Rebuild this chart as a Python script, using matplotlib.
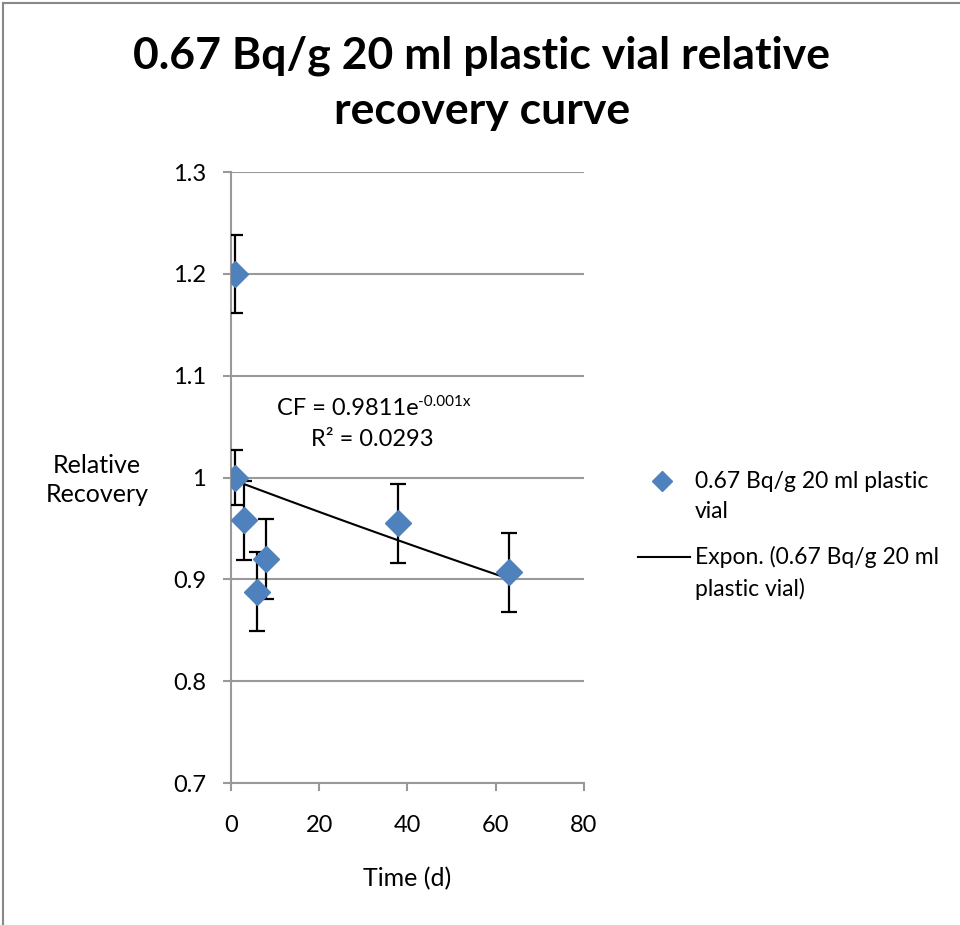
import matplotlib.pyplot as plt
import numpy as np
from matplotlib.lines import Line2D

plt.rcParams['font.family'] = ['Lato', 'DejaVu Sans']

time_d = [0.9, 1.0, 2.9, 5.8, 7.9, 37.9, 62.9]
recovery = [1.2, 1.0, 0.958, 0.888, 0.920, 0.955, 0.907]
recovery_err = [0.038, 0.027, 0.039, 0.039, 0.039, 0.039, 0.039]
legend_labels = ['0.67 Bq/g 20 ml plastic\nvial', 'Expon. (0.67 Bq/g 20 ml\nplastic vial)']

# exponential trend line fitted to the points
b, ln_a = np.polyfit(time_d, np.log(recovery), 1)
x_fit = np.linspace(min(time_d), max(time_d), 100)
y_fit = np.exp(ln_a) * np.exp(b * x_fit)

fig = plt.figure(figsize=(9.6, 9.25), dpi=100)
ax = fig.add_axes([0.2406, 0.1535, 0.3677, 0.6605])

ax.plot(x_fit, y_fit, color='black', lw=1.5, zorder=2)
ax.errorbar(time_d, recovery, yerr=recovery_err, fmt='none', ecolor='black',
            elinewidth=1.6, capsize=6, capthick=1.6, zorder=3)
ax.plot(time_d, recovery, 'D', color='#4F81BD', ms=13, mec='#4F81BD', zorder=4)

ax.set_xlim(0, 80)
ax.set_ylim(0.7, 1.3)
ax.set_xticks([0, 20, 40, 60, 80])
ax.set_yticks([0.7, 0.8, 0.9, 1.0, 1.1, 1.2, 1.3])
ax.set_yticklabels(['0.7', '0.8', '0.9', '1', '1.1', '1.2', '1.3'])
ax.yaxis.grid(True, color='#999999', lw=1.5)
ax.set_axisbelow(True)
for s in ['top', 'right']:
    ax.spines[s].set_visible(False)
for s in ['left', 'bottom']:
    ax.spines[s].set_color('#999999')
    ax.spines[s].set_linewidth(1.5)
ax.tick_params(colors='#999999', labelcolor='black', labelsize=17, length=6, width=1.5)
ax.tick_params(axis='x', pad=17)
ax.tick_params(axis='y', pad=12)

ax.set_xlabel('Time (d)', fontsize=18, labelpad=22)
fig.text(0.101, 0.481, 'Relative\nRecovery', fontsize=18, ha='center', va='center',
         linespacing=1.3)

fig.text(0.502, 0.9097, '0.67 Bq/g 20 ml plastic vial relative\nrecovery curve',
         fontsize=32, fontweight='bold', ha='center', va='center', linespacing=1.45)

# trend line equation, superscript as its own smaller text
cf_text = ax.text(10.4, 1.068, 'CF = 0.9811e', fontsize=17, ha='left', va='center', zorder=5)
ax.annotate('-0.001x', xy=(1.0, 0.82), xycoords=cf_text, fontsize=11,
            ha='left', va='center', zorder=5)
ax.text(32, 1.037, 'R² = 0.0293', fontsize=17, ha='center', va='center', zorder=5)

# legend, Excel style: key lined up with the first line of each label
fig.add_artist(Line2D([0.6896], [1 - 481 / 925], marker='D', color='#4F81BD',
                      ls='none', ms=10))
fig.add_artist(Line2D([0.665, 0.719], [1 - 557 / 925] * 2, color='black', lw=1.5))
fig.text(0.724, 1 - 496.5 / 925, legend_labels[0], fontsize=16.5, ha='left',
         va='center', linespacing=1.55)
fig.text(0.724, 1 - 573 / 925, legend_labels[1], fontsize=16.5, ha='left',
         va='center', linespacing=1.55)

fig.add_artist(Line2D([0.003, 1.0], [0.997, 0.997], color='#888888', lw=1.5))
fig.add_artist(Line2D([0.003, 0.003], [0.0, 0.997], color='#888888', lw=1.5))

fig.savefig('out.png', dpi=100)
